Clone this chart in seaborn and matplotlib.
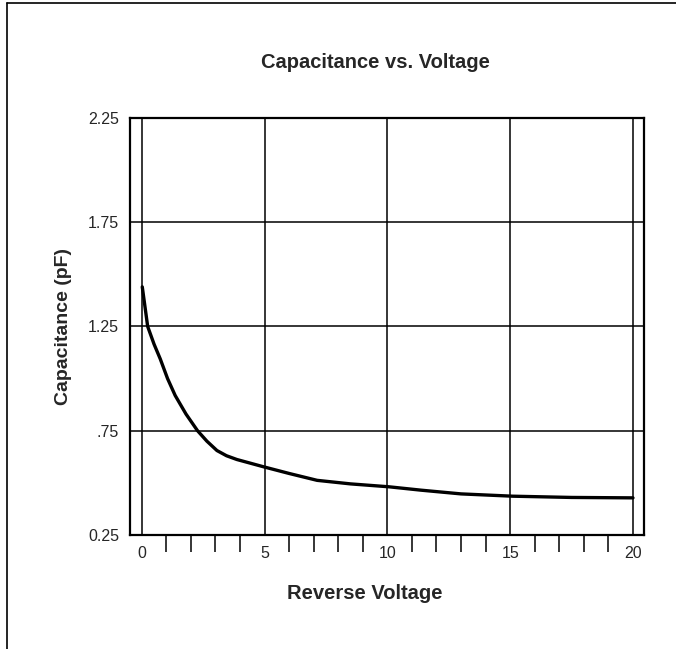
import matplotlib
matplotlib.use("Agg")
import matplotlib.pyplot as plt
from matplotlib.lines import Line2D
from matplotlib.ticker import FixedLocator
import seaborn as sns
import pandas as pd

# values
voltage = [0.02, 0.24, 0.5, 0.75, 1.05, 1.36, 1.8, 2.27, 2.65, 3.06, 3.45, 3.87,
           4.99, 6.0, 7.14, 8.5, 10.07, 11.36, 13.0, 15.1, 17.5, 20.0]
capacitance = [1.44, 1.25, 1.165, 1.095, 1.0, 0.919, 0.83, 0.75, 0.70, 0.655, 0.63, 0.612,
               0.576, 0.545, 0.512, 0.495, 0.481, 0.465, 0.447, 0.436, 0.43, 0.428]

x_major = [0, 5, 10, 15, 20]
x_minor = [1, 2, 3, 4, 6, 7, 8, 9, 11, 12, 13, 14, 16, 17, 18, 19]
y_major = [0.25, 0.75, 1.25, 1.75, 2.25]
y_labels = ["0.25", ".75", "1.25", "1.75", "2.25"]

sns.set_style("white")
plt.rcParams["font.family"] = ["Liberation Sans", "DejaVu Sans"]

df = pd.DataFrame({"Reverse Voltage": voltage, "Capacitance (pF)": capacitance})

fig = plt.figure(figsize=(6.76, 6.49), dpi=100)
ax = fig.add_axes([0.1923, 0.1757, 0.7604, 0.6425])

# grid lines
for gx in x_major:
    ax.axvline(gx, color="black", lw=1.1, zorder=1)
for gy in y_major[1:-1]:
    ax.axhline(gy, color="black", lw=1.1, zorder=1)

sns.lineplot(data=df, x="Reverse Voltage", y="Capacitance (pF)", color="black",
             lw=2.4, ax=ax, zorder=3)

ax.set_xlim(-0.48, 20.45)
ax.set_ylim(0.25, 2.25)
ax.set_xticks(x_major)
ax.set_xticklabels([str(v) for v in x_major])
ax.xaxis.set_minor_locator(FixedLocator(x_minor))
ax.set_yticks(y_major)
ax.set_yticklabels(y_labels)
ax.tick_params(axis="both", which="major", length=0, labelsize=11.5, pad=8)
ax.tick_params(axis="x", which="minor", direction="out", length=12, width=1.1,
               color="black", bottom=True)

for s in ax.spines.values():
    s.set_color("black")
    s.set_linewidth(1.6)

ax.set_xlabel("Reverse Voltage", fontsize=14.5, fontweight="bold")
ax.set_ylabel("Capacitance (pF)", fontsize=14, fontweight="bold")
ax.xaxis.set_label_coords(0.457, -0.118)
ax.yaxis.set_label_coords(-0.112, 0.5)

fig.text(0.556, 0.903, "Capacitance vs. Voltage", fontsize=14.5, fontweight="bold",
         ha="center", va="center")

# page frame (left and top edges)
fig.add_artist(Line2D([0.011, 0.011], [0.0, 0.995], color="black", lw=1.2,
                      transform=fig.transFigure))
fig.add_artist(Line2D([0.011, 1.0], [0.995, 0.995], color="black", lw=1.2,
                      transform=fig.transFigure))

fig.savefig("out.png", dpi=100, facecolor="white")
